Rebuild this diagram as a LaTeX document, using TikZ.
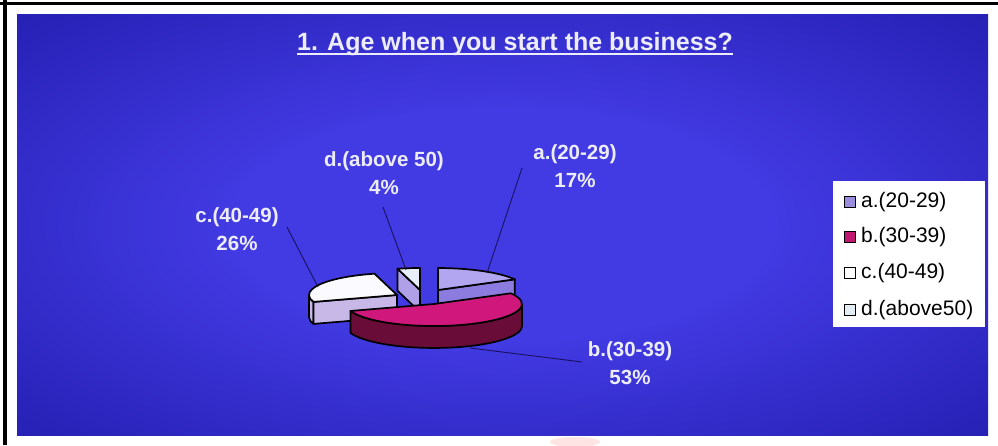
\documentclass[tikz,border=0pt]{standalone}
\usepackage{fontspec}
\setmainfont{Liberation Sans}
\definecolor{navy}{RGB}{24,20,128}
\definecolor{midblue}{RGB}{40,34,184}
\definecolor{glow}{RGB}{66,58,226}
\definecolor{labelwhite}{RGB}{236,236,250}
\definecolor{atop}{RGB}{178,166,240}
\definecolor{aface}{RGB}{140,124,224}
\definecolor{btop}{RGB}{208,24,124}
\definecolor{bside}{RGB}{106,12,56}
\definecolor{ctop}{RGB}{251,251,255}
\definecolor{cside}{RGB}{200,184,232}
\definecolor{dtop}{RGB}{232,238,248}
\definecolor{dface}{RGB}{176,160,232}
\definecolor{legA}{RGB}{156,140,224}
\definecolor{legB}{RGB}{192,24,112}
\definecolor{legD}{RGB}{228,236,244}
\definecolor{leader}{RGB}{26,16,96}
\pgfdeclareradialshading{panelglow}{\pgfpoint{0bp}{0bp}}{color(0bp)=(glow); color(14bp)=(glow); color(34bp)=(midblue); color(55bp)=(navy); color(80bp)=(navy)}
\begin{document}
\begin{tikzpicture}[x=1pt,y=1pt,
  slice/.style={draw=black, line width=1.7pt, line join=round},
  lbl/.style={text=labelwhite, font=\fontsize{20.5}{28}\selectfont\bfseries, align=center, inner sep=0pt},
  legmark/.style={draw=black, line width=1.2pt, minimum size=11pt, inner sep=0pt},
  legtext/.style={text=black, font=\fontsize{21}{24}\selectfont, inner sep=0pt, anchor=west},
  leadline/.style={draw=leader, line width=0.9pt}]
\useasboundingbox (0,0) rectangle (998,445);
\fill[white] (0,0) rectangle (998,445);
\fill[black] (3,0) rectangle (7,445);
\fill[black] (0,440) rectangle (998,442.5);
\shade[shading=panelglow] (17,10) rectangle (988,430);
\fill[pink!70!white, opacity=0.6] (575,3) ellipse [x radius=25pt, y radius=5pt];

% title
\node (title) [anchor=base, inner sep=0pt, text=labelwhite, font=\fontsize{25}{30}\selectfont\bfseries] at (515,394) {1. Age when you start the business?};
\draw[labelwhite, line width=1.8pt] ([yshift=-3pt]title.base west) -- ([yshift=-3pt]title.base east);

% slice a
\begin{scope}[shift={(438,155)}]
\filldraw[slice, fill=aface] (0,0) -- (76.8,10.7) -- (76.8,-11.3) -- (0,-22) -- cycle;
\filldraw[slice, fill=atop] (0,0) -- (76.8,10.7) arc[start angle=29.2, end angle=90, x radius=88pt, y radius=22pt] -- cycle;
\coordinate (aEnd) at (49,17);
\end{scope}
% slice d
\begin{scope}[shift={(420,155)}]
\filldraw[slice, fill=dface] (0,0) -- (-22.5,21.3) -- (-22.5,-0.7) -- (0,-22) -- cycle;
\filldraw[slice, fill=dtop] (0,0) -- (0,22) arc[start angle=90, end angle=104.8, x radius=88pt, y radius=22pt] -- cycle;
\coordinate (dEnd) at (-14,20);
\end{scope}
% slice c
\begin{scope}[shift={(397,150)}]
\filldraw[slice, fill=cside] (-88,0) arc[start angle=180, end angle=198.4, x radius=88pt, y radius=22pt] -- ++(0,-22) arc[start angle=198.4, end angle=180, x radius=88pt, y radius=22pt] -- cycle;
\filldraw[slice, fill=cside] (0,0) -- (-83.5,-6.9) -- (-83.5,-28.9) -- (0,-22) -- cycle;
\filldraw[slice, fill=ctop] (0,0) -- (-22.5,21.3) arc[start angle=104.8, end angle=198.4, x radius=88pt, y radius=22pt] -- cycle;
\coordinate (cEnd) at (-79,8);
\end{scope}
% slice b
\begin{scope}[shift={(434,141)}]
\filldraw[slice, fill=bside] (-83.5,-6.9) arc[start angle=198.4, end angle=360, x radius=88pt, y radius=22pt] -- ++(0,-22) arc[start angle=360, end angle=198.4, x radius=88pt, y radius=22pt] -- cycle;
\filldraw[slice, fill=btop] (0,0) -- (76.8,10.7) arc[start angle=29.2, end angle=-161.6, x radius=88pt, y radius=22pt] -- cycle;
\coordinate (bEnd) at (36,-44);
\end{scope}

% labels
\node (la) [lbl] at (575,279) {a.(20-29)\\17\%};
\node (ld) [lbl] at (384,272) {d.(above 50)\\4\%};
\node (lc) [lbl] at (237,216) {c.(40-49)\\26\%};
\node (lb) [lbl] at (630,82) {b.(30-39)\\53\%};
\coordinate (aStart) at (522,277);
\coordinate (dStart) at (383,238);
\coordinate (cStart) at (287,218);
\coordinate (bStart) at (582,83);
\draw[leadline] (aStart) -- (aEnd);
\draw[leadline] (dStart) -- (dEnd);
\draw[leadline] (cStart) -- (cEnd);
\draw[leadline] (bEnd) -- (bStart);

% legend
\node (legend) [fill=white, minimum width=152pt, minimum height=146pt, inner sep=0pt] at (909,191) {};
\node (ma) [legmark, fill=legA] at (850,243) {};
\node (mb) [legmark, fill=legB] at (850,208) {};
\node (mc) [legmark, fill=white] at (850,172) {};
\node (md) [legmark, fill=legD] at (850,135) {};
\node (ta) [legtext] at (861,243) {a.(20-29)};
\node (tb) [legtext] at (861,208) {b.(30-39)};
\node (tc) [legtext] at (861,172) {c.(40-49)};
\node (td) [legtext] at (861,135) {d.(above50)};
\end{tikzpicture}
\end{document}
